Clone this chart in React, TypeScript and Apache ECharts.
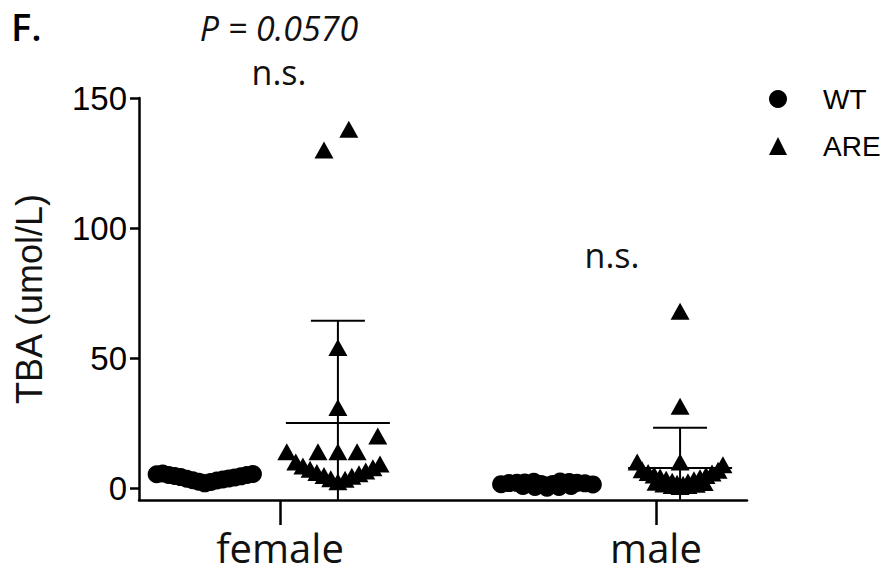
import React, { useEffect, useRef } from "react";
import * as echarts from "echarts";

// ---- data ----
const categories = ["female", "male"];
const categoryPos = [1, 2];
const yTicks = [0, 50, 100, 150];
const Y_MIN = -4.6;
const Y_MAX = 150;

// group centres on the x value axis (female tick = 1, male tick = 2)
const femaleWTPos = 0.8;
const femaleAREPos = 1.154;
const maleWTPos = 1.71;
const maleAREPos = 2.064;

const femaleWTJitter = [-0.128, -0.112, -0.096, -0.08, -0.064, -0.048, -0.032, -0.016, 0, 0.016, 0.032, 0.048, 0.064, 0.08, 0.096, 0.112, 0.128];
const femaleWTValues = [5.3, 5.6, 5.0, 4.6, 4.2, 3.6, 3.0, 2.4, 1.8, 2.3, 2.9, 3.3, 3.7, 4.1, 4.5, 5.0, 5.4];

const femaleAREJitter = [-0.037, 0.029, 0, 0, 0.106, -0.136, -0.053, 0, 0.051, -0.112, -0.093, -0.074, -0.056, -0.037, -0.019, 0, 0.019, 0.037, 0.056, 0.074, 0.093, 0.112];
const femaleAREValues = [130, 138, 54, 31, 20, 14, 14, 14, 14, 10, 8.5, 7.2, 6, 4.8, 3.6, 2.4, 3.4, 4.5, 5.5, 6.6, 7.8, 9.2];

const maleWTJitter = [-0.122, -0.101, -0.08, -0.059, -0.035, -0.016, 0, 0.016, 0.035, 0.059, 0.08, 0.101, 0.122, -0.064, -0.032, 0, 0.032, 0.064];
const maleWTValues = [1.5, 1.9, 2.0, 2.1, 2.4, 1.6, 1.0, 1.6, 2.5, 2.3, 2.0, 1.8, 1.4, 0.8, 0.4, 0.1, 0.4, 0.8];

const maleAREJitter = [0, 0, 0, -0.114, 0.114, -0.101, -0.085, -0.069, -0.053, -0.037, -0.021, -0.008, 0.008, 0.021, 0.037, 0.053, 0.069, 0.085, 0.101, -0.064, -0.043, -0.021, 0, 0.021, 0.043, 0.064];
const maleAREValues = [68, 31.5, 10, 10, 9, 7, 6, 5, 4.2, 3.4, 2.6, 1.8, 1.5, 2.4, 3.2, 4, 4.8, 5.8, 6.8, 2.2, 1.6, 1.0, 0.6, 1.0, 1.5, 2.1];

// mean ± SD
const wtErrPos = [femaleWTPos, maleWTPos];
const wtMean = [3.8, 1.9];
const wtSD = [1.3, 1.0];
const areErrPos = [femaleAREPos, maleAREPos];
const areMean = [25, 7.7];
const areSD = [39.3, 15.5];

const pairs = (pos: number, jitter: number[], values: number[]) =>
  values.map((v, i) => [pos + jitter[i], v]);

const errData = (pos: number[], mean: number[], sd: number[]) =>
  pos.map((p, i) => [p, mean[i], sd[i]]);

const makeErrRender = (color: string) => (params: any, api: any) => {
  const x = api.value(0);
  const m = api.value(1);
  const s = api.value(2);
  const c = api.coord([x, m]);
  const top = api.coord([x, m + s]);
  const lowV = m - s;
  const low = api.coord([x, Math.max(lowV, Y_MIN)]);
  const st = { stroke: color, lineWidth: 2 };
  const children: any[] = [
    { type: "line", shape: { x1: c[0] - 52, y1: c[1], x2: c[0] + 52, y2: c[1] }, style: st },
    { type: "line", shape: { x1: top[0], y1: top[1], x2: low[0], y2: low[1] }, style: st },
    { type: "line", shape: { x1: top[0] - 27, y1: top[1], x2: top[0] + 27, y2: top[1] }, style: st },
  ];
  if (lowV >= Y_MIN) {
    children.push({ type: "line", shape: { x1: low[0] - 27, y1: low[1], x2: low[0] + 27, y2: low[1] }, style: st });
  }
  return { type: "group", children };
};

export default function App() {
  const ref = useRef<HTMLDivElement>(null);
  useEffect(() => {
    document.body.style.margin = "0";
    const chart = echarts.init(ref.current!, null, { renderer: "svg" });
    const axisFont = "Liberation Sans";
    chart.setOption({
      animation: false,
      backgroundColor: "#fff",
      grid: { left: 139, right: 145, top: 98, bottom: 74, containLabel: false },
      legend: {
        data: [
          { name: "WT", icon: "circle" },
          { name: "ARE", icon: "triangle" },
        ],
        orient: "vertical",
        left: 764,
        top: 80,
        itemWidth: 18,
        itemHeight: 18,
        itemGap: 19,
        selectedMode: false,
        textStyle: { fontFamily: axisFont, fontSize: 28, color: "#000", padding: [0, 0, 0, 31] },
      },
      xAxis: {
        type: "value",
        min: 0.625,
        max: 2.242,
        splitLine: { show: false },
        axisLine: { show: true, onZero: false, lineStyle: { color: "#000", width: 2.5 } },
        axisTick: { show: true, customValues: categoryPos, length: 25, lineStyle: { color: "#000", width: 2.5 } },
        axisLabel: {
          customValues: categoryPos,
          margin: 27,
          lineHeight: 40,
          formatter: (v: number) => categories[categoryPos.indexOf(Math.round(v))] ?? "",
          fontFamily: "Open Sans",
          fontSize: 40,
          color: "#111",
        },
      },
      yAxis: {
        type: "value",
        min: Y_MIN,
        max: Y_MAX,
        splitLine: { show: false },
        name: "TBA (umol/L)",
        nameLocation: "middle",
        nameGap: 92,
        nameTextStyle: { fontFamily: axisFont, fontSize: 36, color: "#111" },
        axisLine: { show: true, onZero: false, lineStyle: { color: "#000", width: 2.5 } },
        axisTick: { show: true, customValues: yTicks, length: 9, lineStyle: { color: "#000", width: 2.5 } },
        axisLabel: { customValues: yTicks, margin: 12, fontFamily: axisFont, fontSize: 33, color: "#000" },
      },
      graphic: [
        { type: "text", style: { text: "F.", x: 11, y: 26, textVerticalAlign: "middle", font: '600 38px "Open Sans"', fill: "#000" } },
        { type: "text", style: { text: "P = 0.0570", x: 279, y: 28, textAlign: "center", textVerticalAlign: "middle", font: 'italic 34px "Open Sans"', fill: "#111" } },
        { type: "text", style: { text: "n.s.", x: 279, y: 72, textAlign: "center", textVerticalAlign: "middle", font: '34px "Open Sans"', fill: "#111" } },
        { type: "text", style: { text: "n.s.", x: 612, y: 255, textAlign: "center", textVerticalAlign: "middle", font: '34px "Open Sans"', fill: "#111" } },
      ],
      series: [
        {
          name: "WT err",
          type: "custom",
          renderItem: makeErrRender("#8a8a8a"),
          data: errData(wtErrPos, wtMean, wtSD),
          z: 1,
          silent: true,
        },
        {
          name: "ARE err",
          type: "custom",
          renderItem: makeErrRender("#000"),
          data: errData(areErrPos, areMean, areSD),
          z: 1,
          silent: true,
        },
        {
          name: "WT",
          type: "scatter",
          symbol: "circle",
          symbolSize: 18,
          itemStyle: { color: "#000", opacity: 1 },
          data: [...pairs(femaleWTPos, femaleWTJitter, femaleWTValues), ...pairs(maleWTPos, maleWTJitter, maleWTValues)],
          z: 2,
        },
        {
          name: "ARE",
          type: "scatter",
          symbol: "triangle",
          symbolSize: [19, 17],
          itemStyle: { color: "#000", opacity: 1 },
          data: [...pairs(femaleAREPos, femaleAREJitter, femaleAREValues), ...pairs(maleAREPos, maleAREJitter, maleAREValues)],
          z: 2,
        },
      ],
    });
    return () => chart.dispose();
  }, []);
  return <div ref={ref} style={{ position: "fixed", left: 0, top: 0, width: 892, height: 574 }} />;
}
